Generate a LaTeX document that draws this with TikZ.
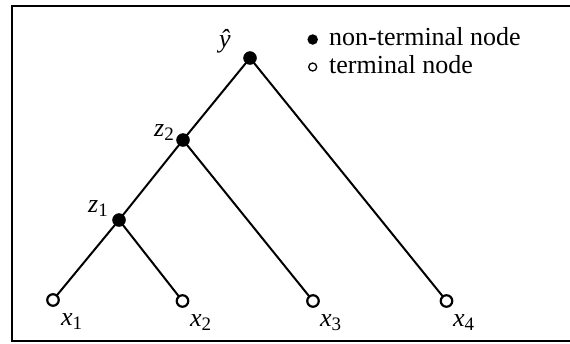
\documentclass[tikz,border=0pt]{standalone}
\usepackage{fontspec}
\setmainfont{Liberation Serif}
\newcommand{\mylab}[2]{\textit{#1}\raisebox{-4pt}{\fontsize{19}{19}\selectfont #2}}
\begin{document}
\begin{tikzpicture}[x=1pt,y=-1pt,
  edge/.style={line width=2pt},
  inner/.style={circle,fill=black,draw=black,inner sep=0pt,minimum size=13pt},
  leaf/.style={circle,fill=white,draw=black,line width=2.2pt,inner sep=0pt,minimum size=11.5pt},
  lab/.style={inner sep=0pt,font=\fontsize{26}{28}\selectfont},
  frame/.style={line width=2pt}]
\useasboundingbox (0,0) rectangle (570,343);
\draw[frame] (575,5.5) -- (12,5.5) -- (12,341) -- (575,341);
% nodes
\coordinate (py) at (250,58);
\coordinate (pz2) at (183,140);
\coordinate (pz1) at (119,220);
\coordinate (px1) at (53,300);
\coordinate (px2) at (182.5,301);
\coordinate (px3) at (313,301);
\coordinate (px4) at (446.5,301);
\draw[edge] (py) -- (pz2) -- (pz1) -- (px1);
\draw[edge] (pz1) -- (px2);
\draw[edge] (pz2) -- (px3);
\draw[edge] (py) -- (px4);
\node[inner] (y) at (py) {};
\node[inner] (z2) at (pz2) {};
\node[inner] (z1) at (pz1) {};
\node[leaf] (x1) at (px1) {};
\node[leaf] (x2) at (px2) {};
\node[leaf] (x3) at (px3) {};
\node[leaf] (x4) at (px4) {};
% labels
\node[lab,anchor=base west] (ly) at (219,47) {\textit{ŷ}};
\node[lab,anchor=base east] (lz2) at (174,136) {\mylab{z}{2}};
\node[lab,anchor=base east] (lz1) at (108,212) {\mylab{z}{1}};
\node[lab,anchor=base west] (lx1) at (61,325) {\mylab{x}{1}};
\node[lab,anchor=base west] (lx2) at (190,326) {\mylab{x}{2}};
\node[lab,anchor=base west] (lx3) at (320,326) {\mylab{x}{3}};
\node[lab,anchor=base west] (lx4) at (453,326) {\mylab{x}{4}};
% legend
\node[circle,fill=black,inner sep=0pt,minimum size=10.5pt] (lg1) at (312.7,39.5) {};
\node[circle,draw=black,line width=1.3pt,inner sep=0pt,minimum size=8pt] (lg2) at (312.7,67) {};
\node[lab,anchor=base west] (t1) at (329,45) {non-terminal node};
\node[lab,anchor=base west] (t2) at (329,73.5) {terminal node};
\end{tikzpicture}
\end{document}
